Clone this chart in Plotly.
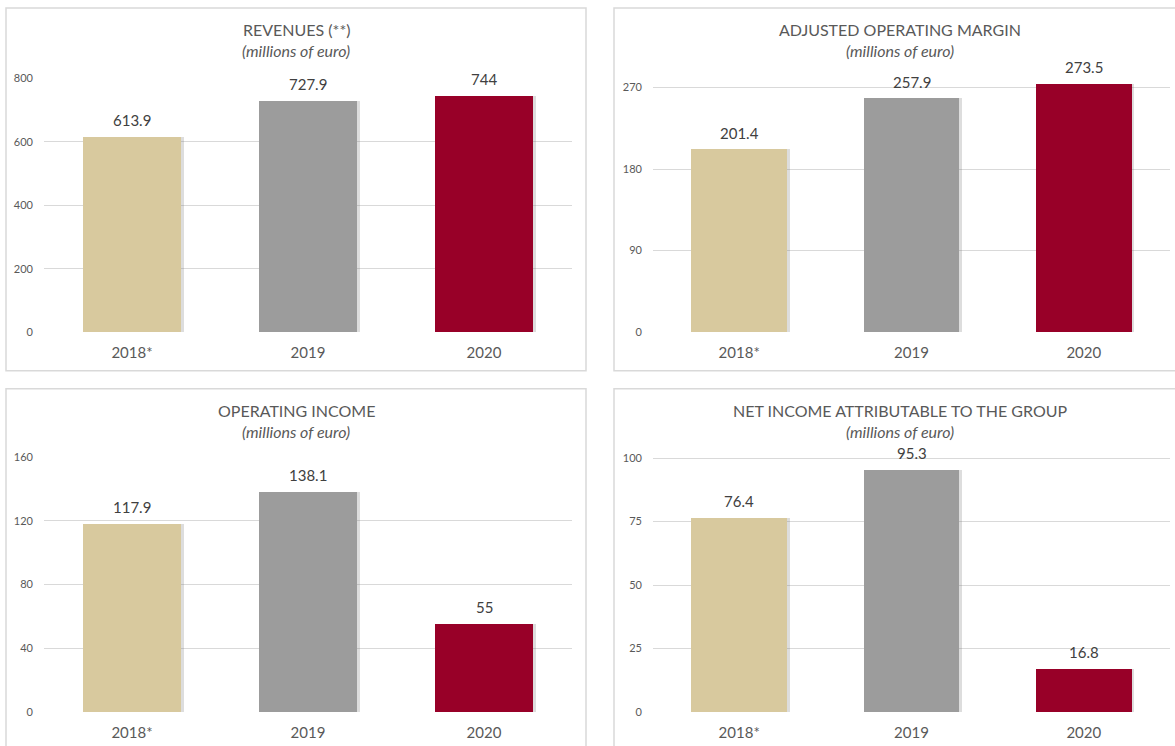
import plotly.graph_objects as go

# --- data ---
years = ["2018*", "2019", "2020"]
bar_colors = ["#d8c99e", "#9c9c9c", "#980028"]

revenues = [613.9, 727.9, 744]
adj_operating_margin = [201.4, 257.9, 273.5]
operating_income = [117.9, 138.1, 55]
net_income_group = [76.4, 95.3, 16.8]

revenue_ticks = [0, 200, 400, 600, 800]
margin_ticks = [0, 90, 180, 270]
op_income_ticks = [0, 40, 80, 120, 160]
net_income_ticks = [0, 25, 50, 75, 100]

titles = [
    "REVENUES (**)",
    "ADJUSTED OPERATING MARGIN",
    "OPERATING INCOME",
    "NET INCOME ATTRIBUTABLE TO THE GROUP",
]
subtitle = "(millions of euro)"

W, H = 1175, 746
FONT = "Lato, 'Open Sans', sans-serif"
GRID = "#d9d9d9"
TXT = "#595959"
BAR_W = 0.555


def px_x(p):
    return p / W


def px_y(p):
    # small correction for the vertical offset seen in the rendered page
    return 1 - ((p - 7) / 0.983) / H


# panel geometry in pixels: plot x-span, plot y-span, border box, y max
panels = [
    dict(values=revenues, ticks=revenue_ticks, ymax=800,
         xs=(44, 572), ys=(78.3, 332.3), box=(6, 8, 586, 371)),
    dict(values=adj_operating_margin, ticks=margin_ticks, ymax=280.3,
         xs=(653, 1170), ys=(78.3, 332.3), box=(614, 8, 1190, 371)),
    dict(values=operating_income, ticks=op_income_ticks, ymax=160,
         xs=(44, 572), ys=(457.3, 712.3), box=(6, 389, 586, 760)),
    dict(values=net_income_group, ticks=net_income_ticks, ymax=100.4,
         xs=(653, 1170), ys=(457.3, 712.3), box=(614, 389, 1190, 760)),
]

fig = go.Figure()
shapes = []
annotations = []
layout_axes = {}

for i, p in enumerate(panels):
    n = "" if i == 0 else str(i + 1)
    xa, ya = "x" + n, "y" + n

    # soft drop shadow on the right side of each bar
    fig.add_trace(
        go.Bar(
            x=years,
            y=p["values"],
            marker=dict(color="rgba(120,120,120,0.25)", line=dict(width=0)),
            width=BAR_W,
            offset=-BAR_W / 2 + 0.016,
            xaxis=xa,
            yaxis=ya,
            showlegend=False,
            hoverinfo="skip",
        )
    )
    fig.add_trace(
        go.Bar(
            x=years,
            y=p["values"],
            marker=dict(color=bar_colors, line=dict(width=0)),
            width=BAR_W,
            offset=-BAR_W / 2,
            xaxis=xa,
            yaxis=ya,
            showlegend=False,
            hovertemplate="%{x}: %{y}<extra></extra>",
        )
    )

    layout_axes["xaxis" + n] = dict(
        type="category",
        domain=[px_x(p["xs"][0]), px_x(p["xs"][1])],
        anchor=ya,
        range=[-0.5, 2.5],
        showgrid=False,
        showline=False,
        zeroline=False,
        ticks="",
        ticklabelstandoff=10,
        tickfont=dict(family=FONT, size=15, color=TXT),
        fixedrange=True,
    )
    layout_axes["yaxis" + n] = dict(
        domain=[px_y(p["ys"][1]), px_y(p["ys"][0])],
        anchor=xa,
        range=[0, p["ymax"]],
        tickvals=p["ticks"],
        showgrid=True,
        gridcolor=GRID,
        gridwidth=1,
        zeroline=False,
        showline=False,
        ticks="",
        ticklabelstandoff=10,
        tickfont=dict(family=FONT, size=11, color=TXT),
        fixedrange=True,
    )

    # value labels above bars (x given as category index)
    for j, v in enumerate(p["values"]):
        annotations.append(dict(
            x=j, y=v, xref=xa, yref=ya, text=f"{v:g}",
            showarrow=False, xanchor="center", yanchor="bottom", yshift=6,
            font=dict(family=FONT, size=15, color="#404040"),
        ))

    # panel border
    x0, y0, x1, y1 = p["box"]
    shapes.append(dict(
        type="rect", xref="paper", yref="paper",
        x0=px_x(x0), x1=px_x(x1), y0=px_y(y1), y1=px_y(y0),
        line=dict(color=GRID, width=1.5), fillcolor="rgba(0,0,0,0)",
        layer="below",
    ))

    # title and subtitle
    cx = (x0 + min(x1, 1186)) / 2
    annotations.append(dict(
        x=px_x(cx), y=px_y(y0 + 22), xref="paper", yref="paper",
        text=titles[i], showarrow=False, xanchor="center", yanchor="middle",
        font=dict(family=FONT, size=16, color=TXT),
    ))
    annotations.append(dict(
        x=px_x(cx), y=px_y(y0 + 43), xref="paper", yref="paper",
        text="<i>" + subtitle + "</i>", showarrow=False,
        xanchor="center", yanchor="middle",
        font=dict(family=FONT, size=16, color=TXT),
    ))

fig.update_layout(
    width=W,
    height=H,
    margin=dict(l=0, r=0, t=0, b=0),
    paper_bgcolor="white",
    plot_bgcolor="rgba(0,0,0,0)",
    shapes=shapes,
    annotations=annotations,
    barmode="overlay",
    bargap=0,
    **layout_axes,
)

fig.write_html(
    "out.html",
    config={"displayModeBar": False},
    post_script="document.body.style.margin='0';document.body.style.overflow='hidden';",
)
